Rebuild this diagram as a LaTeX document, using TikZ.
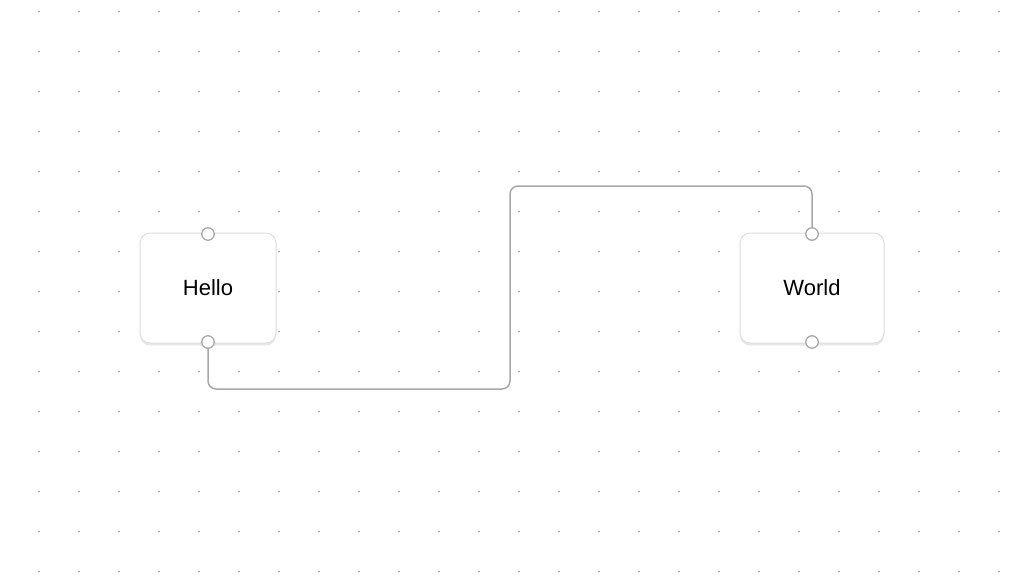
\documentclass[tikz,border=0pt]{standalone}
\usepackage{fontspec}
\setmainfont{Liberation Sans}
\usetikzlibrary{shadows}
\definecolor{dotc}{HTML}{939393}
\definecolor{edgec}{HTML}{A8A8A8}
\definecolor{boxline}{HTML}{DEDEDE}
\tikzset{
  card/.style={draw=boxline, line width=1pt, fill=white, rounded corners=10pt,
    minimum width=#1, minimum height=110pt, font=\fontsize{22}{26}\selectfont,
    drop shadow={opacity=0.18, shadow xshift=0pt, shadow yshift=-2.5pt}},
  handle/.style={circle, draw=edgec, line width=1.3pt, fill=white, minimum size=12.5pt, inner sep=0pt},
  wire/.style={draw=edgec, line width=1.5pt, rounded corners=8pt},
}
\begin{document}
\begin{tikzpicture}[x=1pt,y=-1pt]
\useasboundingbox (0,0) rectangle (1024,576);
\fill[white] (0,0) rectangle (1024,576);
\foreach \i in {0,...,24}{
  \foreach \j in {0,...,14}{
    \fill[dotc] ({39+40*\i},{11.5+40*\j}) circle (0.9);
  }
}
\node[card=136pt] (hello) at (208,288) {Hello};
\node[card=144pt] (world) at (812,288) {World};
\coordinate (m1) at (510,389);
\coordinate (m2) at (510,186);
\draw[wire] (208,348) |- (m1) -- (m2) -| (812,228);
\node[handle] (ht) at (208,234) {};
\node[handle] (hb) at (208,342) {};
\node[handle] (wt) at (812,234) {};
\node[handle] (wb) at (812,342) {};
\end{tikzpicture}
\end{document}
